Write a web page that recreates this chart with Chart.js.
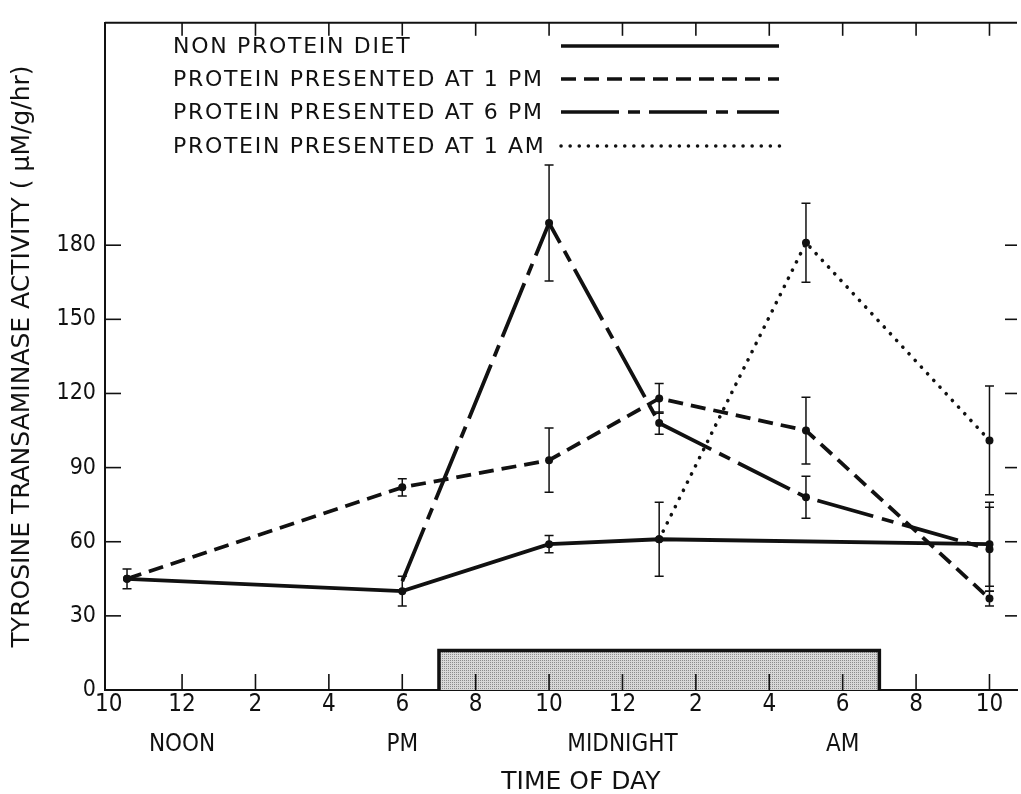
<!DOCTYPE html>
<html>
<head>
<meta charset="utf-8">
<script src="https://cdn.jsdelivr.net/npm/chart.js@4/dist/chart.umd.min.js"></script>
<style>body{margin:0;background:#fff}</style>
</head>
<body>
<canvas id="chart" width="1021" height="794"></canvas>
<script>
// hours counted from 10 AM
var hourTicks = [0, 2, 4, 6, 8, 10, 12, 14, 16, 18, 20, 22, 24];
var hourLabels = ['10', '12', '2', '4', '6', '8', '10', '12', '2', '4', '6', '8', '10'];
var periodHours = [2, 8, 14, 20];
var periodNames = ['NOON', 'PM', 'MIDNIGHT', 'AM'];
var yTicks = [0, 30, 60, 90, 120, 150, 180];

var nonProteinHours = [0.5, 8, 12, 15, 24];
var nonProteinValues = [45, 40, 59, 61, 59];
var nonProteinErrors = [4, 6, 3.5, 15, 17];

var onePmHours = [0.5, 8, 12, 15, 19, 24];
var onePmValues = [45, 82, 93, 118, 105, 37];
var onePmErrors = [0, 3.5, 13, 6, 13.5, 3];

var sixPmHours = [8, 12, 15, 19, 24];
var sixPmValues = [44, 189, 108, 78, 57];
var sixPmErrors = [0, 23.5, 4.5, 8.5, 17];

var oneAmHours = [15, 19, 24];
var oneAmValues = [61, 181, 101];
var oneAmErrors = [0, 16, 22];

// dark period 7 PM - 7 AM
var darkPeriod = [9, 21];
var darkHeight = 16;

var narrow = "'Liberation Sans Narrow', 'DejaVu Sans Condensed', sans-serif";
var wide = "'DejaVu Sans', 'Liberation Sans', sans-serif";

function points(hours, values) {
  var out = [];
  for (var i = 0; i < hours.length; i++) {
    out.push({x: hours[i], y: values[i]});
  }
  return out;
}

function makeSet(label, hours, values, errors, dash, extra) {
  var ds = {
    label: label,
    data: points(hours, values),
    errors: errors,
    borderColor: '#111',
    borderWidth: 3.8,
    borderDash: dash,
    pointRadius: 4,
    pointBackgroundColor: '#111',
    pointBorderWidth: 0,
    tension: 0,
    fill: false
  };
  for (var k in extra) ds[k] = extra[k];
  return ds;
}

var pc = document.createElement('canvas');
pc.width = 2; pc.height = 2;
var pctx = pc.getContext('2d');
pctx.fillStyle = '#d8d8d8'; pctx.fillRect(0, 0, 2, 2);
pctx.fillStyle = '#8c8c8c'; pctx.fillRect(0, 0, 1, 1);
var stipple = pctx.createPattern(pc, 'repeat');

var frame = {
  id: 'frame',
  beforeDatasetsDraw: function(chart) {
    var ctx = chart.ctx, x = chart.scales.x, y = chart.scales.y, a = chart.chartArea;
    function line(x0, y0, x1, y1) { ctx.beginPath(); ctx.moveTo(x0, y0); ctx.lineTo(x1, y1); ctx.stroke(); }
    ctx.save();
    var bx0 = x.getPixelForValue(darkPeriod[0]), bx1 = x.getPixelForValue(darkPeriod[1]);
    var by0 = y.getPixelForValue(0), by1 = y.getPixelForValue(darkHeight);
    ctx.fillStyle = stipple;
    ctx.fillRect(bx0, by1, bx1 - bx0, by0 - by1);
    ctx.strokeStyle = '#111';
    ctx.lineWidth = 3.5;
    ctx.beginPath(); ctx.moveTo(bx0, by0); ctx.lineTo(bx0, by1); ctx.lineTo(bx1, by1); ctx.lineTo(bx1, by0); ctx.stroke();
    ctx.lineWidth = 2;
    line(a.left, a.top, a.right, a.top);
    ctx.lineWidth = 1.6;
    hourTicks.forEach(function(h) {
      if (h === 0) return;
      var px = x.getPixelForValue(h);
      line(px, a.bottom, px, a.bottom - 16);
      line(px, a.top, px, a.top + 13);
    });
    yTicks.forEach(function(v) {
      if (v === 0) return;
      var py = y.getPixelForValue(v);
      line(a.left, py, a.left + 16, py);
      line(a.right - 12, py, a.right, py);
    });
    ctx.restore();
  }
};

var errorBars = {
  id: 'errorBars',
  afterDatasetsDraw: function(chart) {
    var ctx = chart.ctx, y = chart.scales.y;
    ctx.save();
    ctx.strokeStyle = '#111';
    ctx.lineWidth = 1.5;
    chart.data.datasets.forEach(function(ds, di) {
      var meta = chart.getDatasetMeta(di);
      ds.data.forEach(function(p, i) {
        var e = ds.errors[i];
        if (!e) return;
        var px = meta.data[i].x;
        var top = y.getPixelForValue(p.y + e), bot = y.getPixelForValue(p.y - e);
        ctx.beginPath();
        ctx.moveTo(px, top); ctx.lineTo(px, bot);
        ctx.moveTo(px - 4.5, top); ctx.lineTo(px + 4.5, top);
        ctx.moveTo(px - 4.5, bot); ctx.lineTo(px + 4.5, bot);
        ctx.stroke();
      });
    });
    ctx.restore();
  }
};

var keyRows = [47, 80, 113, 147];
var keyBox = {
  id: 'keyBox',
  afterDraw: function(chart) {
    var ctx = chart.ctx;
    ctx.save();
    ctx.font = '22px ' + wide;
    ctx.letterSpacing = '1.7px';
    ctx.fillStyle = '#111';
    ctx.textBaseline = 'middle';
    chart.data.datasets.forEach(function(ds, i) {
      var yy = keyRows[i];
      ctx.fillText(ds.label, 173, yy);
      ctx.strokeStyle = '#111';
      ctx.lineWidth = 3.5;
      ctx.lineCap = ds.borderCapStyle || 'butt';
      ctx.setLineDash(ds.borderDash || []);
      ctx.beginPath();
      ctx.moveTo(561, yy - 1);
      ctx.lineTo(ds.borderCapStyle === 'round' ? 785 : 779, yy - 1);
      ctx.stroke();
    });
    ctx.restore();
  }
};

new Chart(document.getElementById('chart'), {
  type: 'line',
  data: {
    datasets: [
      makeSet('NON PROTEIN DIET', nonProteinHours, nonProteinValues, nonProteinErrors, []),
      makeSet('PROTEIN PRESENTED AT 1 PM', onePmHours, onePmValues, onePmErrors, [15, 8]),
      makeSet('PROTEIN PRESENTED AT 6 PM', sixPmHours, sixPmValues, sixPmErrors, [58, 9, 12, 9], {pointRadius: [0, 4, 4, 4, 4]}),
      makeSet('PROTEIN PRESENTED AT 1 AM', oneAmHours, oneAmValues, oneAmErrors, [0.1, 9], {borderCapStyle: 'round', borderWidth: 3.6})
    ]
  },
  options: {
    responsive: false,
    animation: false,
    devicePixelRatio: 1,
    layout: {padding: {top: 19, left: 0, right: 0, bottom: 0}},
    plugins: {legend: {display: false}, tooltip: {enabled: false}},
    scales: {
      x: {
        type: 'linear',
        min: -0.1,
        max: 24.75,
        afterBuildTicks: function(scale) {
          scale.ticks = hourTicks.map(function(v) { return {value: v}; });
        },
        afterFit: function(scale) { scale.height = 104; },
        grid: {drawOnChartArea: false, drawTicks: false},
        border: {color: '#111', width: 2},
        ticks: {
          autoSkip: false,
          maxRotation: 0,
          padding: 5,
          color: '#111',
          font: {family: narrow, size: 24, lineHeight: '20px'},
          callback: function(value) {
            var i = hourTicks.indexOf(value);
            var p = periodHours.indexOf(value);
            if (p >= 0) return [hourLabels[i], '', periodNames[p]];
            return hourLabels[i];
          }
        },
        title: {
          display: true,
          text: '     TIME OF DAY',
          color: '#111',
          padding: 0,
          font: {family: wide, size: 25, lineHeight: 0.9}
        }
      },
      y: {
        min: 0,
        max: 270,
        afterBuildTicks: function(scale) {
          scale.ticks = yTicks.map(function(v) { return {value: v}; });
        },
        afterFit: function(scale) { scale.width = 105; },
        grid: {drawOnChartArea: false, drawTicks: false},
        border: {color: '#111', width: 2},
        ticks: {
          padding: 9,
          color: '#111',
          font: {family: narrow, size: 23}
        },
        title: {
          display: true,
          text: 'TYROSINE TRANSAMINASE ACTIVITY ( \u03bcM/g/hr)',
          color: '#111',
          padding: {top: 7, bottom: 0},
          font: {family: wide, size: 25}
        }
      }
    }
  },
  plugins: [frame, errorBars, keyBox]
});
</script>
</body>
</html>
